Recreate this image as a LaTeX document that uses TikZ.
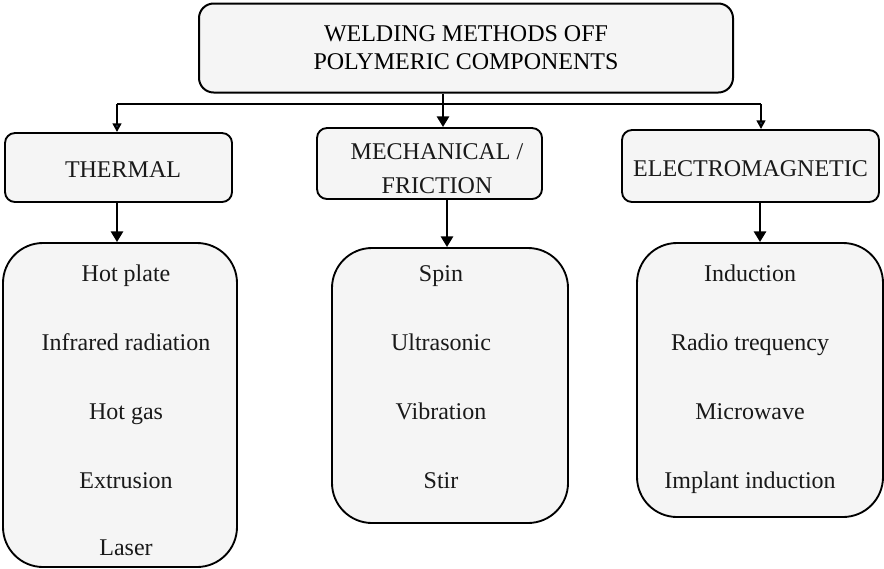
\documentclass[tikz,border=0pt]{standalone}
\usepackage{fontspec}
\setmainfont{Liberation Serif}
\usetikzlibrary{positioning,arrows.meta}

\definecolor{boxfill}{HTML}{F5F5F5}
\definecolor{tipblue}{HTML}{4A7EBB}

\tikzset{
  headbox/.style={draw, line width=1.5pt, fill=boxfill, rounded corners=11pt,
    align=center, inner sep=0pt, font=\fontsize{18}{21}\selectfont},
  groupbox/.style={draw, line width=1.4pt, fill=boxfill, rounded corners=7.5pt, inner sep=0pt},
  grouptext/.style={align=center, inner sep=0pt, text=black!90,
    font=\fontsize{18}{25.5}\selectfont},
  listbox/.style={draw, line width=1.4pt, fill=boxfill, rounded corners=30pt, inner sep=0pt},
  entry/.style={font=\fontsize{18}{21}\selectfont, inner sep=1pt, text=black!90,
    text height=12pt, text depth=4pt},
  feed/.style={line width=2pt, -{Triangle[width=9pt,length=8pt]}},
  branch/.style={line width=1.8pt, -{Triangle[width=6.5pt,length=6.5pt,fill=tipblue]}},
}

\begin{document}
\begin{tikzpicture}[x=0.75pt, y=-0.75pt]
\useasboundingbox (0,0) rectangle (884,568);

\def\xa{126}
\def\xb{441}
\def\xc{750}

\def\ya{276}
\def\yb{345}
\def\yc{414}
\def\yd{483}
\def\ye{550}

% top
\node[headbox, minimum width=400.5pt, minimum height=66.75pt] (title) at (466,48)
  {WELDING METHODS OFF\\POLYMERIC COMPONENTS};

% groups
\node[groupbox, minimum width=170.25pt, minimum height=51.75pt] (thermal) at (118.5,167.5) {};
\node[groupbox, minimum width=168.75pt, minimum height=53.25pt] (mech) at (429.5,163.5) {};
\node[groupbox, minimum width=192.75pt, minimum height=54pt] (electro) at (750.5,166) {};
\node[grouptext] (thermaltext) at (123,170) {THERMAL};
\node[grouptext] (mechtext) at (437,169) {MECHANICAL /\\FRICTION};
\node[grouptext] (electrotext) at (750.5,169) {ELECTROMAGNETIC};

% lists
\node[listbox, minimum width=175.5pt, minimum height=243pt] (tlist) at (120,405) {};
\node[listbox, minimum width=177pt, minimum height=206.25pt] (mlist) at (450,385.5) {};
\node[listbox, minimum width=184.5pt, minimum height=205.5pt] (elist) at (760,380) {};

\node[entry] (hotplate) at (\xa,\ya) {Hot plate};
\node[entry] (infrared) at (\xa,\yb) {Infrared radiation};
\node[entry] (hotgas) at (\xa,\yc) {Hot gas};
\node[entry] (extrusion) at (\xa,\yd) {Extrusion};
\node[entry] (laser) at (\xa,\ye) {Laser};

\node[entry] (spin) at (\xb,\ya) {Spin};
\node[entry] (ultrasonic) at (\xb,\yb) {Ultrasonic};
\node[entry] (vibration) at (\xb,\yc) {Vibration};
\node[entry] (stir) at (\xb,\yd) {Stir};

\node[entry] (induction) at (\xc,\ya) {Induction};
\node[entry] (radio) at (\xc,\yb) {Radio trequency};
\node[entry] (microwave) at (\xc,\yc) {Microwave};
\node[entry] (implant) at (\xc,\yd) {Implant induction};

% connectors
\coordinate (jn) at (443,104);
\coordinate (lt) at (117,104);
\coordinate (rt) at (761,104);
\draw[line width=1.8pt] (lt) -- (rt);
\draw[feed] (jn |- title.south) -- (jn |- mech.north);
\draw[branch] (lt) -- (lt |- thermal.north);
\draw[branch] (rt) -- (rt |- electro.north);

\draw[feed] (thermal.south -| lt) -- (tlist.north -| lt);
\draw[feed] (mech.south -| 447,0) -- (mlist.north -| 447,0);
\draw[feed] (electro.south -| elist.north) -- (elist.north);

\end{tikzpicture}
\end{document}
